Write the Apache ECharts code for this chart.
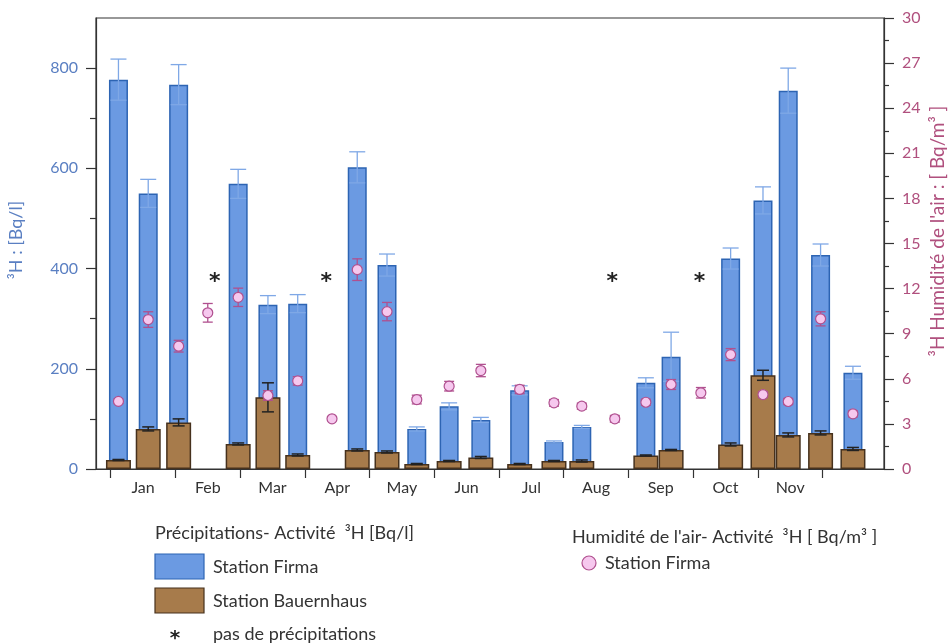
<!DOCTYPE html>
<html>
<head>
<meta charset="utf-8">
<script src="https://cdn.jsdelivr.net/npm/echarts@6/dist/echarts.min.js"></script>
<style>
html,body{margin:0;padding:0;background:#fff;}
#chart{width:952px;height:643px;}
</style>
</head>
<body>
<div id="chart"></div>
<script>
// ---- data (x position in month units: 0 = start of January) ----
const months = ['Jan','Feb','Mar','Apr','May','Jun','Jul','Aug','Sep','Oct','Nov'];
const monthStarts = [0,1,2,3,4,5,6,7,8,9,10,11];
const sampleX = [0.12,0.58,1.05,1.50,1.97,2.43,2.89,3.42,3.81,4.27,4.73,5.23,5.72,6.32,6.85,7.28,7.79,8.27,8.66,9.12,9.58,10.08,10.47,10.97,11.47];
const rainFirma = [777,550,767,null,569,328,330,null,602,407,80,125,98,157,54,84,null,172,224,null,420,536,755,427,192];
const rainFirmaErr = [41,28,40,null,29,18,18,null,31,22,4,7,5,9,2,3,null,10,49,null,21,27,45,22,13];
const rainBauern = [18,80,93,null,50,143,28,null,38,34,10,16,23,10,16,16,null,27,38,null,49,187,68,72,40];
const rainBauernErr = [1,4,7,null,2,29,2,null,2,2,1,1,2,1,1,2,null,1,1,null,3,10,4,4,3];
const airFirma = [4.5,9.94,8.17,10.39,11.42,4.89,5.86,3.34,13.26,10.47,4.62,5.51,6.55,5.29,4.4,4.18,3.34,4.44,5.62,5.07,7.61,4.95,4.49,9.99,3.67];
const airFirmaErr = [0.15,0.52,0.39,0.62,0.61,0.32,0.28,0.12,0.72,0.61,0.29,0.32,0.41,0.28,0.22,0.2,0.22,0.2,0.33,0.35,0.4,0.2,0.2,0.47,0.2];
const noRainX = [1.61,3.33,7.75,9.10];
const leftTicks = [0,200,400,600,800];
const leftMinorTicks = [100,300,500,700];

// ---- build ----
const FONT = 'Lato';
const BLUE = '#6b9ae2', BLUE_B = '#2d64b3', BLUE_ERR = '#7fa8e6';
const BROWN = '#a77b4b', BROWN_B = '#46311d';
const PINK = '#f6c8ee', PINK_B = '#b0508f';
const LEFT_C = '#5a7fc2', RIGHT_C = '#b0507e';
const STAR_LEVEL = 385;

function pairs(vals){ const o=[]; vals.forEach((v,i)=>{ if(v!=null) o.push([sampleX[i], v]); }); return o; }
function errs(vals, e){ const o=[]; vals.forEach((v,i)=>{ if(v!=null && e[i]!=null) o.push([sampleX[i], v-e[i], v+e[i]]); }); return o; }
function errRender(capHalf, color, lw){
  return function(params, api){
    const x = api.value(0), lo = api.value(1), hi = api.value(2);
    const a = api.coord([x, lo]), b = api.coord([x, hi]);
    const st = {stroke: color, lineWidth: lw};
    return {type:'group', children:[
      {type:'line', shape:{x1:a[0],y1:a[1],x2:b[0],y2:b[1]}, style:st},
      {type:'line', shape:{x1:a[0]-capHalf,y1:a[1],x2:a[0]+capHalf,y2:a[1]}, style:st},
      {type:'line', shape:{x1:b[0]-capHalf,y1:b[1],x2:b[0]+capHalf,y2:b[1]}, style:st}
    ]};
  };
}

const chart = echarts.init(document.getElementById('chart'), null, {renderer:'canvas'});
const xMin = -0.227, xMax = 11.95;
const axisLineStyle = {color:'#333', width:1.2};
const TICK_FS = 16, LEG_FS = 18;

chart.setOption({
  animation:false,
  textStyle:{fontFamily:FONT},
  grid:{left:96, right:68, top:18, bottom:174, show:true, borderColor:'#333', borderWidth:1.2, backgroundColor:'transparent'},
  xAxis:[
    {type:'value', min:xMin, max:xMax, splitLine:{show:false},
     axisLine:{show:true, onZero:false, lineStyle:axisLineStyle},
     axisTick:{show:true, customValues:monthStarts, length:9, lineStyle:axisLineStyle},
     axisLabel:{customValues:monthStarts.slice(0, months.length).map(v=>v+0.5), margin:11,
       formatter:(v)=>months[Math.floor(v)] || '', color:'#333', fontSize:TICK_FS, fontFamily:FONT}},
    {type:'value', min:xMin, max:xMax, show:false}
  ],
  yAxis:[
    {type:'value', min:0, max:900, interval:100, position:'left', splitLine:{show:false},
     axisLine:{show:true, onZero:false, lineStyle:axisLineStyle},
     axisTick:{show:true, customValues:leftTicks, length:10, lineStyle:axisLineStyle},
     axisLabel:{customValues:leftTicks, color:LEFT_C, fontSize:TICK_FS, margin:18, fontFamily:FONT}},
    {type:'value', min:0, max:30, interval:3, position:'right', splitLine:{show:false},
     axisLine:{show:true, onZero:false, lineStyle:axisLineStyle},
     axisTick:{show:true, length:10, lineStyle:axisLineStyle},
     minorTick:{show:true, splitNumber:2, length:5, lineStyle:axisLineStyle},
     axisLabel:{color:RIGHT_C, fontSize:TICK_FS, margin:18, fontFamily:FONT}},
    {type:'value', min:0, max:900, interval:100, position:'left', splitLine:{show:false},
     axisLine:{show:false, onZero:false},
     axisTick:{show:true, customValues:leftMinorTicks, length:6, lineStyle:axisLineStyle},
     axisLabel:{show:false}}
  ],
  series:[
    {name:'Station Firma', type:'bar', xAxisIndex:0, yAxisIndex:0, barWidth:19, z:2,
     itemStyle:{color:BLUE, borderColor:BLUE_B, borderWidth:1.5}, data:pairs(rainFirma)},
    {name:'Station Firma err', type:'custom', xAxisIndex:0, yAxisIndex:0, z:3,
     renderItem:errRender(8, BLUE_ERR, 1.3), data:errs(rainFirma, rainFirmaErr)},
    {name:'Station Bauernhaus', type:'bar', xAxisIndex:1, yAxisIndex:0, barWidth:25, z:4,
     itemStyle:{color:BROWN, borderColor:BROWN_B, borderWidth:1.5}, data:pairs(rainBauern)},
    {name:'Station Bauernhaus err', type:'custom', xAxisIndex:0, yAxisIndex:0, z:5,
     renderItem:errRender(6, '#222', 1.5), data:errs(rainBauern, rainBauernErr)},
    {name:'Humidité err', type:'custom', xAxisIndex:0, yAxisIndex:1, z:6,
     renderItem:errRender(5, PINK_B, 1.3), data:errs(airFirma, airFirmaErr)},
    {name:'Humidité Station Firma', type:'scatter', xAxisIndex:0, yAxisIndex:1, z:7,
     symbol:'circle', symbolSize:10,
     itemStyle:{color:PINK, borderColor:PINK_B, borderWidth:1.2, opacity:1},
     data:airFirma.map((v,i)=>[sampleX[i], v])},
    {name:'pas de précipitations', type:'custom', xAxisIndex:0, yAxisIndex:0, z:7,
     renderItem:function(params, api){
       const p = api.coord([api.value(0), STAR_LEVEL]);
       return {type:'text', style:{text:'*', x:p[0], y:p[1] + 6, align:'center', verticalAlign:'middle',
         fontSize:22, fontWeight:'bold', fill:'#222', fontFamily:'DejaVu Sans'}};
     },
     data:noRainX.map(x=>[x])}
  ],
  graphic:[
    {type:'text', x:16, y:240, rotation:Math.PI/2,
     style:{text:'³H : [Bq/l]', fill:LEFT_C, fontSize:18, fontFamily:FONT, align:'center', verticalAlign:'middle'}},
    {type:'text', x:938, y:231, rotation:Math.PI/2,
     style:{text:'³H Humidité de l\'air : [ Bq/m³ ]', fill:RIGHT_C, fontSize:19, fontFamily:FONT, align:'center', verticalAlign:'middle'}},
    {type:'text', x:155, y:533, style:{text:'Précipitations- Activité  ³H [Bq/l]', fill:'#333', fontSize:LEG_FS, fontFamily:FONT, verticalAlign:'middle'}},
    {type:'rect', shape:{x:155,y:554,width:49,height:25}, style:{fill:BLUE, stroke:BLUE_B, lineWidth:1.2}},
    {type:'text', x:213, y:567, style:{text:'Station Firma', fill:'#333', fontSize:LEG_FS, fontFamily:FONT, verticalAlign:'middle'}},
    {type:'rect', shape:{x:155,y:588,width:49,height:25}, style:{fill:BROWN, stroke:BROWN_B, lineWidth:1.2}},
    {type:'text', x:213, y:601, style:{text:'Station Bauernhaus', fill:'#333', fontSize:LEG_FS, fontFamily:FONT, verticalAlign:'middle'}},
    {type:'text', x:175, y:639, style:{text:'*', fill:'#222', fontSize:20, fontWeight:'bold', fontFamily:'DejaVu Sans', align:'center', verticalAlign:'middle'}},
    {type:'text', x:213, y:634, style:{text:'pas de précipitations', fill:'#333', fontSize:LEG_FS, fontFamily:FONT, verticalAlign:'middle'}},
    {type:'text', x:572, y:537, style:{text:'Humidité de l\'air- Activité  ³H [ Bq/m³ ]', fill:'#333', fontSize:LEG_FS, fontFamily:FONT, verticalAlign:'middle'}},
    {type:'circle', shape:{cx:589,cy:563,r:7}, style:{fill:PINK, stroke:PINK_B, lineWidth:1.2}},
    {type:'text', x:605, y:563, style:{text:'Station Firma', fill:'#333', fontSize:LEG_FS, fontFamily:FONT, verticalAlign:'middle'}}
  ]
});
</script>
</body>
</html>
